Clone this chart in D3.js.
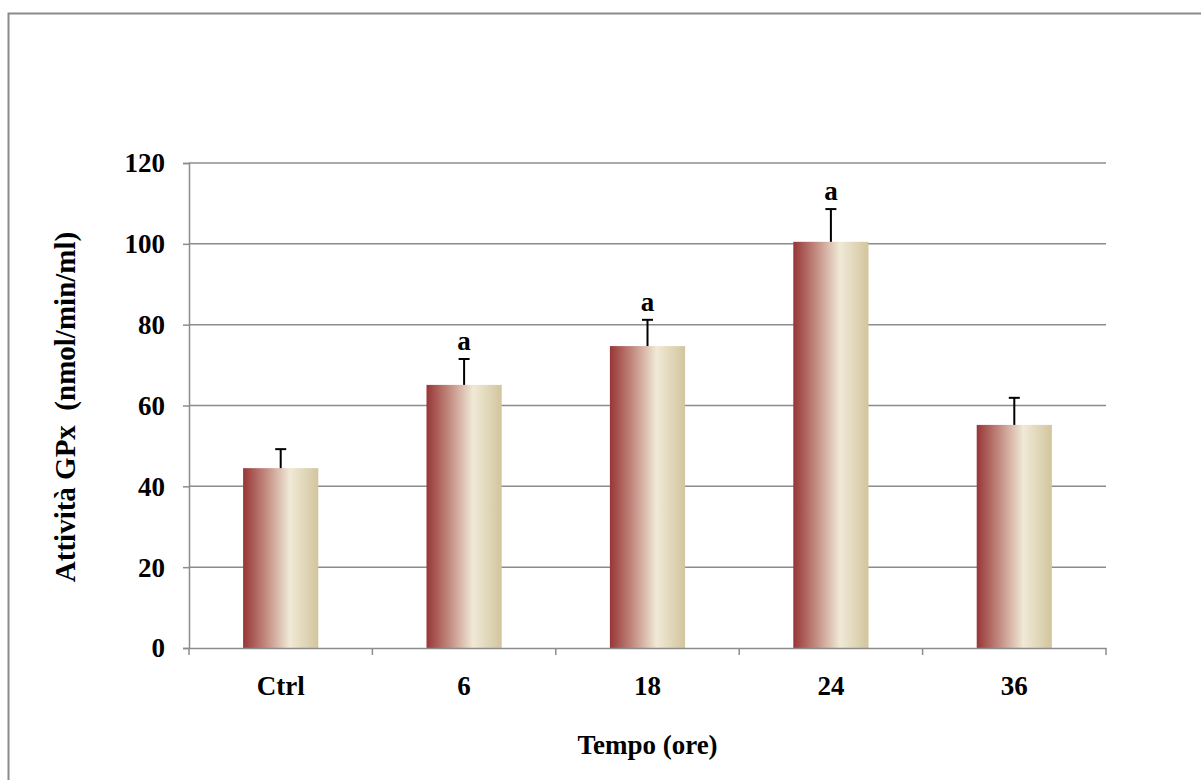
<!DOCTYPE html>
<html>
<head>
<meta charset="utf-8">
<script src="https://cdn.jsdelivr.net/npm/d3@7"></script>
<style>
  body { margin: 0; background: #fff; }
  text { font-family: "Liberation Serif", "Times New Roman", serif; font-weight: bold; fill: #000; }
</style>
</head>
<body>
<svg id="chart" width="1201" height="780"></svg>
<script>
// chart data
const categories = ["Ctrl", "6", "18", "24", "36"];
const means = [44.5, 65.1, 74.7, 100.5, 55.2];
const errors = [4.7, 6.4, 6.5, 8.1, 6.7];
const marks = ["", "a", "a", "a", ""];
const yTicks = [0, 20, 40, 60, 80, 100, 120];

const svg = d3.select("#chart");
const plotLeft = 189, plotRight = 1106, plotTop = 163, plotBottom = 648;

// outer frame
svg.append("rect")
    .attr("x", 8.5).attr("y", 13.5)
    .attr("width", 1300).attr("height", 900)
    .attr("fill", "none")
    .attr("stroke", "#8a8a8a")
    .attr("stroke-width", 2)

const defs = svg.append("defs");
const grad = defs.append("linearGradient")
    .attr("id", "barGrad")
    .attr("x1", "0%").attr("x2", "100%").attr("y1", "0%").attr("y2", "0%");
grad.append("stop").attr("offset", "0%").attr("stop-color", "#973636");
grad.append("stop").attr("offset", "30%").attr("stop-color", "#c28a80");
grad.append("stop").attr("offset", "62%").attr("stop-color", "#f0e9d6");
grad.append("stop").attr("offset", "100%").attr("stop-color", "#d2c59e");

const x = d3.scaleBand()
    .domain(categories)
    .range([plotLeft, plotRight])
    .paddingInner(0.59)
    .paddingOuter(0.295);

const band = d3.scaleBand().domain(categories).range([plotLeft, plotRight]);

const y = d3.scaleLinear()
    .domain([0, 120])
    .range([plotBottom, plotTop]);

// gridlines
svg.append("g")
    .selectAll("line")
    .data(yTicks.filter(d => d > 0))
    .enter()
    .append("line")
    .attr("x1", plotLeft).attr("x2", plotRight)
    .attr("y1", d => y(d)).attr("y2", d => y(d))
    .attr("stroke", "#8c8c8c")
    .attr("stroke-width", 1.5)

// bars
svg.append("g")
    .selectAll("rect")
    .data(categories)
    .enter()
    .append("rect")
    .attr("x", d => x(d))
    .attr("y", (d, i) => y(means[i]))
    .attr("width", x.bandwidth())
    .attr("height", (d, i) => plotBottom - y(means[i]))
    .attr("fill", "url(#barGrad)")

// error bars
const eb = svg.append("g")
    .selectAll("g")
    .data(categories)
    .enter()
    .append("g")
    .attr("stroke", "#000")
    .attr("stroke-width", 2);

eb.append("line")
    .attr("x1", d => x(d) + x.bandwidth() / 2)
    .attr("x2", d => x(d) + x.bandwidth() / 2)
    .attr("y1", (d, i) => y(means[i]))
    .attr("y2", (d, i) => y(means[i] + errors[i]))

eb.append("line")
    .attr("x1", d => x(d) + x.bandwidth() / 2 - 5.5)
    .attr("x2", d => x(d) + x.bandwidth() / 2 + 5.5)
    .attr("y1", (d, i) => y(means[i] + errors[i]))
    .attr("y2", (d, i) => y(means[i] + errors[i]))

// significance letters
svg.append("g")
    .selectAll("text")
    .data(categories)
    .enter()
    .append("text")
    .attr("x", d => x(d) + x.bandwidth() / 2)
    .attr("y", (d, i) => y(means[i] + errors[i]) - 9)
    .attr("text-anchor", "middle")
    .style("font-size", "27px")
    .text((d, i) => marks[i])

// y axis
const yAxis = svg.append("g")
    .attr("transform", `translate(${plotLeft},0)`)
    .call(d3.axisLeft(y).tickValues(yTicks).tickSize(6).tickPadding(18));
yAxis.select(".domain").attr("stroke", "#8c8c8c").attr("stroke-width", 1.5);
yAxis.selectAll(".tick line").attr("stroke", "#8c8c8c").attr("stroke-width", 1.5);
yAxis.selectAll(".tick text")
    .style("font-size", "27px")
    .attr("dy", "0.33em");

// x axis
const xAxis = svg.append("g")
    .attr("transform", `translate(0,${plotBottom})`)
    .call(d3.axisBottom(band).tickSize(0));
xAxis.select(".domain").attr("stroke", "#8c8c8c").attr("stroke-width", 1.5);
xAxis.selectAll(".tick text")
    .style("font-size", "27px")
    .attr("y", 47)
    .attr("dy", 0);

// x tick marks at category boundaries
svg.append("g")
    .selectAll("line")
    .data(categories.concat(["end"]))
    .enter()
    .append("line")
    .attr("x1", (d, i) => plotLeft + i * band.bandwidth())
    .attr("x2", (d, i) => plotLeft + i * band.bandwidth())
    .attr("y1", plotBottom)
    .attr("y2", plotBottom + 7)
    .attr("stroke", "#8c8c8c")
    .attr("stroke-width", 1.5)

// axis titles
svg.append("text")
    .attr("x", (plotLeft + plotRight) / 2)
    .attr("y", 754)
    .attr("text-anchor", "middle")
    .style("font-size", "27px")
    .text("Tempo (ore)")

svg.append("text")
    .attr("transform", "translate(75,407) rotate(-90)")
    .attr("text-anchor", "middle")
    .style("font-size", "29px")
    .style("white-space", "pre")
    .attr("xml:space", "preserve")
    .text("Attività GPx  (nmol/min/ml)")
</script>
</body>
</html>
